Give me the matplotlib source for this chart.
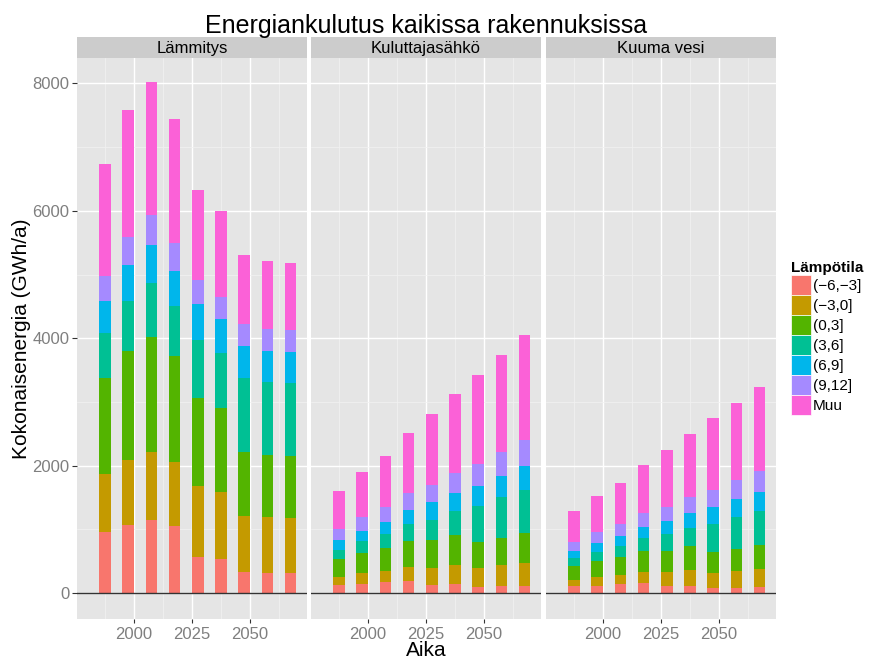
import numpy as np
import matplotlib
matplotlib.use('Agg')
import matplotlib.pyplot as plt
from matplotlib.patches import Patch

plt.rcParams['font.family'] = ['Liberation Sans', 'DejaVu Sans']

years = [1987.5, 1997.5, 2007.5, 2017.5, 2027.5, 2037.5, 2047.5, 2057.5, 2067.5]
luokat = ['(\u22126,\u22123]', '(\u22123,0]', '(0,3]', '(3,6]', '(6,9]', '(9,12]', 'Muu']
varit = ['#F8766D', '#C49A00', '#53B400', '#00C094', '#00B6EB', '#A58AFF', '#FB61D7']
paneelit = ['Lämmitys', 'Kuluttajasähkö', 'Kuuma vesi']

# rivit: lampotilaluokat alhaalta ylos
lammitys = [
    [952, 1072, 1140, 1051, 570, 533, 324, 319, 314],
    [910, 1019, 1077, 1004, 1103, 1051, 884, 868, 868],
    [1516, 1705, 1810, 1668, 1391, 1318, 999, 973, 967],
    [711, 795, 847, 784, 915, 868, 1171, 1155, 1150],
    [502, 565, 590, 554, 554, 528, 497, 481, 481],
    [392, 439, 465, 434, 387, 356, 350, 350, 351],
    [1757, 1981, 2092, 1940, 1407, 1338, 1082, 1062, 1050],
]
sahko = [
    [125, 146, 167, 194, 125, 136, 94, 105, 110],
    [131, 163, 183, 209, 267, 308, 298, 329, 356],
    [272, 313, 356, 417, 434, 471, 403, 434, 480],
    [152, 188, 214, 257, 324, 366, 575, 633, 670],
    [151, 167, 194, 225, 272, 292, 313, 339, 376],
    [173, 215, 240, 267, 267, 309, 341, 372, 403],
    [596, 701, 800, 936, 1124, 1240, 1401, 1526, 1652],
]
kuuma_vesi = [
    [105, 115, 136, 152, 105, 110, 78, 78, 89],
    [99, 131, 146, 172, 219, 246, 240, 267, 283],
    [214, 251, 288, 330, 335, 376, 320, 350, 376],
    [126, 151, 162, 204, 266, 292, 449, 497, 543],
    [120, 141, 167, 183, 209, 236, 262, 278, 293],
    [141, 163, 178, 214, 220, 246, 272, 298, 325],
    [476, 570, 648, 748, 894, 993, 1119, 1217, 1327],
]
data = [lammitys, sahko, kuuma_vesi]

W, H = 871, 659
fig = plt.figure(figsize=(W / 100, H / 100), dpi=100)

def px_axes(x0, y0, x1, y1):
    return fig.add_axes([x0 / W, 1 - y1 / H, (x1 - x0) / W, (y1 - y0) / H])

lefts = [77, 311, 546]
pw = 230
top, bottom = 58, 619

for i, (name, d) in enumerate(zip(paneelit, data)):
    ax = px_axes(lefts[i], top, lefts[i] + pw, bottom)
    ax.set_facecolor('#E5E5E5')
    base = np.zeros(len(years))
    for k in range(len(luokat)):
        v = np.array(d[k], dtype=float)
        ax.bar(years, v, width=5, bottom=base, color=varit[k], linewidth=0, zorder=3)
        base += v
    ax.axhline(0, color='#333333', lw=1, zorder=4)
    ax.set_xlim(1975.4, 2074.6)
    ax.set_ylim(-408, 8400)
    ax.set_xticks([2000, 2025, 2050])
    ax.set_xticks([1987.5, 2012.5, 2037.5, 2062.5], minor=True)
    ax.set_yticks([0, 2000, 4000, 6000, 8000])
    ax.set_yticks([1000, 3000, 5000, 7000], minor=True)
    ax.grid(which='major', color='white', lw=1.0, zorder=1)
    ax.grid(which='minor', color='#F2F2F2', lw=0.5, zorder=0)
    for s in ax.spines.values():
        s.set_visible(False)
    ax.tick_params(which='minor', length=0)
    ax.tick_params(axis='x', which='major', length=3, color='#333333',
                   labelsize=12, labelcolor='#7F7F7F', pad=2.5)
    if i == 0:
        ax.tick_params(axis='y', which='major', length=3.5, color='#333333',
                       labelsize=12, labelcolor='#7F7F7F', pad=2)
    else:
        ax.tick_params(axis='y', which='major', length=0, labelleft=False)

    # otsikkopalkki
    sax = px_axes(lefts[i], 37, lefts[i] + pw, 57.5)
    sax.set_facecolor('#CCCCCC')
    sax.set_xticks([])
    sax.set_yticks([])
    for s in sax.spines.values():
        s.set_visible(False)
    sax.text(0.5, 0.45, name, ha='center', va='center', fontsize=12, transform=sax.transAxes)

fig.text(426 / W, 1 - 33 / H, 'Energiankulutus kaikissa rakennuksissa',
         ha='center', va='baseline', fontsize=18)
fig.text(426 / W, 1 - 656 / H, 'Aika', ha='center', va='baseline', fontsize=15)
fig.text(22 / W, 1 - 338.5 / H, 'Kokonaisenergia (GWh/a)', ha='center', va='center',
         rotation=90, fontsize=15)

handles = [Patch(facecolor=c, edgecolor='white', linewidth=0.5) for c in varit]
leg = fig.legend(handles, luokat, loc='upper left', bbox_to_anchor=(790.5 / W, 1 - 261 / H),
                 frameon=False, fontsize=11, title='Lämpötila',
                 title_fontproperties={'weight': 'bold', 'size': 11},
                 handlelength=1.37, handleheight=1.64, handletextpad=0.1,
                 labelspacing=0.0, borderaxespad=0, borderpad=0, alignment='left')

fig.savefig('out.png', dpi=100)
